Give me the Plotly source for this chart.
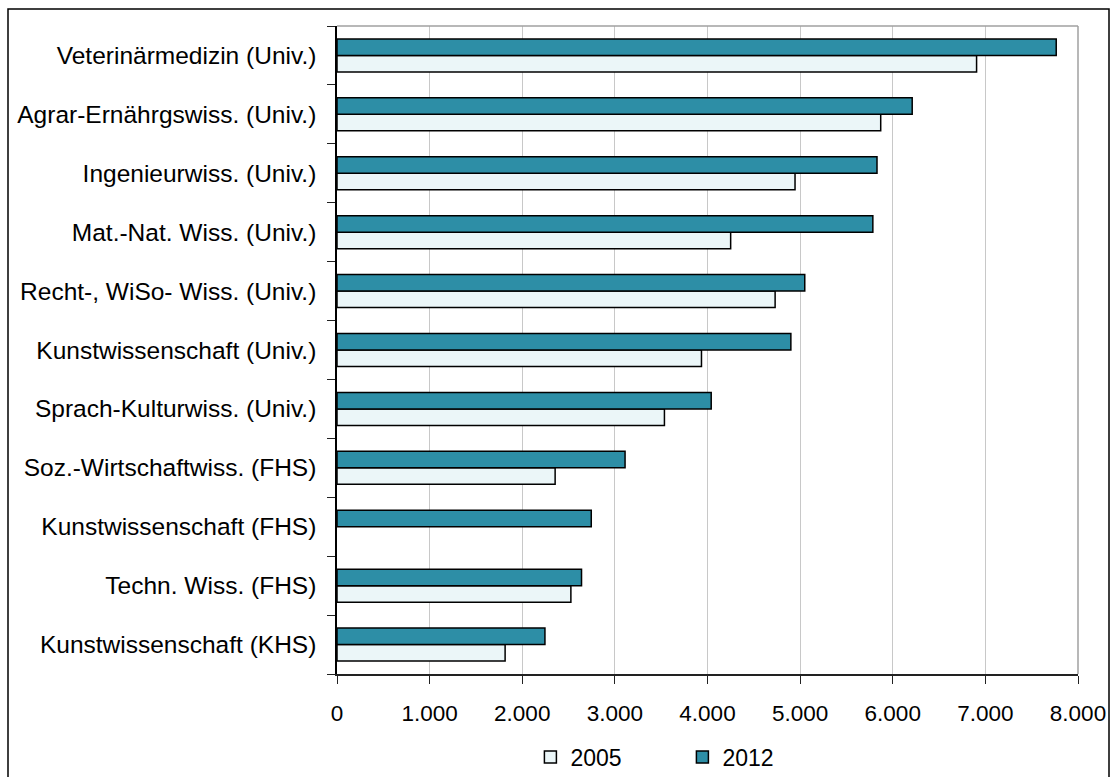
import plotly.graph_objects as go

# Fields of study, listed bottom to top
categories = [
    "Kunstwissenschaft (KHS)",
    "Techn. Wiss. (FHS)",
    "Kunstwissenschaft (FHS)",
    "Soz.-Wirtschaftwiss. (FHS)",
    "Sprach-Kulturwiss. (Univ.)",
    "Kunstwissenschaft (Univ.)",
    "Recht-, WiSo- Wiss. (Univ.)",
    "Mat.-Nat. Wiss. (Univ.)",
    "Ingenieurwiss. (Univ.)",
    "Agrar-Ernährgswiss. (Univ.)",
    "Veterinärmedizin (Univ.)",
]
values_2005 = [1815, 2525, None, 2355, 3535, 3935, 4730, 4250, 4945, 5870, 6905]
values_2012 = [2245, 2640, 2745, 3110, 4040, 4900, 5050, 5785, 5830, 6210, 7765]
x_ticks = [0, 1000, 2000, 3000, 4000, 5000, 6000, 7000, 8000]

FONT = "Liberation Sans, Arial, sans-serif"
TEAL = "#2D8EA6"
PALE = "#EBF6F8"

fig = go.Figure()
fig.add_trace(go.Bar(
    name="2005", y=categories, x=values_2005, orientation="h",
    marker=dict(color=PALE, line=dict(color="#000000", width=1.5)),
))
fig.add_trace(go.Bar(
    name="2012", y=categories, x=values_2012, orientation="h",
    marker=dict(color=TEAL, line=dict(color="#000000", width=1.5)),
))

L, R, T, B = 337, 32, 26, 103
W, H = 1110, 777
pw, ph = W - L - R, H - T - B

fig.update_layout(
    width=W, height=H,
    margin=dict(l=L, r=R, t=T, b=B, pad=0, autoexpand=False),
    paper_bgcolor="white", plot_bgcolor="white",
    barmode="group", bargap=0.44, bargroupgap=0,
    separators=",.",
    font=dict(family=FONT, size=23, color="#000000"),
    showlegend=True,
    legend=dict(
        orientation="h", x=0.261, xanchor="left", y=-0.128, yanchor="middle",
        entrywidth=107, entrywidthmode="pixels",
        font=dict(family=FONT, size=23), itemwidth=30,
        bgcolor="rgba(0,0,0,0)",
    ),
    xaxis=dict(
        range=[0, 8000], tickvals=x_ticks, tickformat=",d",
        tickfont=dict(size=22.5), automargin=False,
        showgrid=True, gridcolor="#C8C8C8", gridwidth=1,
        showline=True, linecolor="#222222", linewidth=1.5,
        ticks="outside", ticklen=8, tickcolor="#222222", tickwidth=1,
        ticklabelstandoff=10, zeroline=False, fixedrange=True,
    ),
    yaxis=dict(
        tickfont=dict(size=24.5), automargin=False,
        showgrid=False, showline=True, linecolor="#000000", linewidth=1.5,
        ticks="outside", tickson="boundaries", ticklen=8, tickcolor="#222222",
        tickwidth=1, ticklabelstandoff=14, fixedrange=True,
    ),
)

# gray frame on the top and right edges of the plot area
fig.add_shape(type="line", xref="paper", yref="paper", x0=0, x1=1, y0=1, y1=1,
              line=dict(color="#A0A0A0", width=1.5))
fig.add_shape(type="line", xref="paper", yref="paper", x0=1, x1=1, y0=0, y1=1,
              line=dict(color="#A0A0A0", width=1.5))

# outer border around the whole chart
fig.add_shape(type="rect", xref="paper", yref="paper",
              x0=(8 - L) / pw, x1=(1109 - L) / pw,
              y0=-0.3, y1=(H - B - 9) / ph,
              line=dict(color="#000000", width=1.5), layer="below")

fig.write_html("out.html")
